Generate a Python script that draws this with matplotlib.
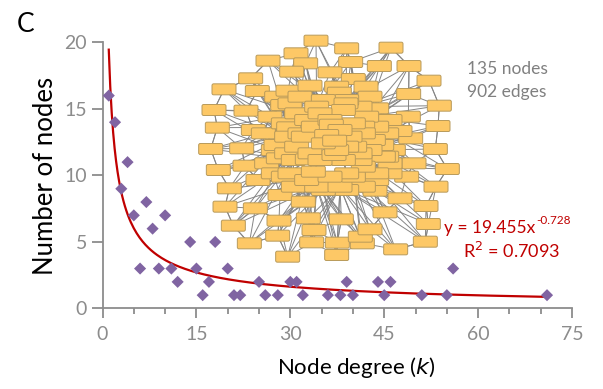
import numpy as np
import matplotlib
matplotlib.use("Agg")
import matplotlib.pyplot as plt
from matplotlib.patches import FancyBboxPatch
from matplotlib.collections import LineCollection

plt.rcParams['font.family'] = ['Lato', 'DejaVu Sans']

# --- degree distribution ---
degree = [1, 2, 3, 4, 5, 6, 7, 8, 9, 10, 11, 12, 14, 15, 16, 17, 18, 20, 21, 22,
          25, 26, 28, 30, 31, 32, 36, 38, 39, 40, 44, 45, 46, 51, 55, 56, 71]
count = [16, 14, 9, 11, 7, 3, 8, 6, 3, 7, 3, 2, 5, 3, 1, 2, 5, 3, 1, 1,
         2, 1, 1, 2, 2, 1, 1, 1, 2, 1, 2, 1, 2, 1, 1, 3, 1]

# power-law fit shown in the chart
fit_a = 19.455
fit_b = -0.728
fit_r2 = 0.7093

x_ticks = [0, 15, 30, 45, 60, 75]
y_ticks = [0, 5, 10, 15, 20]

# --- network inset: approximate box centres (inset pixel grid, y down) ---
node_x = [378, 470, 603, 318, 234, 347, 482, 568, 657, 717,
          182, 305, 420, 490, 102, 202, 294, 360, 448, 528, 656, 748,
          72, 168, 278, 468, 560, 655, 744,
          82, 190, 296, 424, 518, 630, 662, 736,
          62, 155, 258, 340, 434, 494, 575,
          85, 165, 265, 352, 432, 510, 590, 672, 772,
          118, 204, 300, 370, 470, 560, 650, 738,
          105, 196, 270, 340, 400, 470, 555, 630, 708,
          130, 267, 355, 454, 540, 585, 715,
          178, 263, 372, 511, 365, 442, 517, 617, 706,
          293, 440,
          260, 330, 400, 470, 540, 300, 440, 380, 510,
          240, 320, 390, 460, 530, 600, 280, 350, 420, 490, 560,
          220, 290, 370, 450, 520, 590, 330, 410, 480, 550,
          250, 320, 400, 470, 540, 610, 290, 360, 440, 510, 580,
          230, 310, 390, 460, 520, 600, 280, 350, 420, 490, 560,
          310, 380, 450, 520, 250, 600]
node_y = [62, 85, 83, 100, 122, 130, 126, 138, 138, 182,
          175, 155, 157, 177, 208, 213, 212, 197, 218, 200, 222, 257,
          270, 272, 255, 250, 265, 290, 318,
          323, 330, 322, 314, 320, 333, 355, 387,
          387, 385, 375, 350, 362, 380, 375,
          450, 437, 415, 418, 405, 420, 410, 430, 447,
          505, 480, 460, 455, 460, 460, 470, 500,
          560, 565, 525, 545, 510, 510, 512, 535, 558,
          617, 602, 595, 598, 628, 577, 612,
          670, 647, 630, 650, 667, 668, 670, 688, 665,
          710, 705,
          230, 230, 240, 240, 230, 250, 200, 260, 260,
          290, 280, 280, 270, 290, 300, 310, 300, 300, 310, 320,
          340, 350, 320, 330, 340, 340, 340, 345, 350, 360,
          390, 380, 370, 380, 390, 390, 400, 400, 390, 400, 410,
          430, 420, 420, 420, 440, 430, 470, 480, 470, 470, 480,
          500, 500, 500, 500, 460, 460]

fig = plt.figure(figsize=(6.03, 3.89), dpi=100)
ax = fig.add_axes([0.1700, 0.2070, 0.7787, 0.6840])

kx = np.linspace(1, 71, 300)
ax.plot(kx, fit_a * kx ** fit_b, color='#C00000', lw=1.6, zorder=3)
ax.scatter(degree, count, marker='D', s=38, color='#8064A2', edgecolors='none', zorder=4)

ax.set_xlim(0, 75)
ax.set_ylim(0, 20)
ax.set_xticks(x_ticks)
ax.set_xticks(np.arange(0, 76, 5), minor=True)
ax.set_yticks(y_ticks)
for s in ['top', 'right']:
    ax.spines[s].set_visible(False)
for s in ['left', 'bottom']:
    ax.spines[s].set_color('#8c8c8c')
    ax.spines[s].set_linewidth(1.3)
ax.tick_params(axis='both', which='both', colors='#8c8c8c', width=1.3, labelsize=14)
ax.tick_params(axis='y', length=8, pad=3)
ax.tick_params(axis='x', which='major', length=7.5, pad=5)
ax.tick_params(axis='x', which='minor', length=4.5)
ax.set_xlabel('Node degree ($\\it{k}$)', fontsize=16, labelpad=4)
ax.xaxis.set_label_coords(0.541, -0.175)
ax.set_ylabel('Number of nodes', fontsize=18.5, labelpad=5)

# --- network inset ---
ins = fig.add_axes([190 / 603, 1 - 270 / 389, 280 / 603, 250 / 389], zorder=1)
ins.set_xlim(0, 840)
ins.set_ylim(750, 0)
ins.axis('off')
ins.patch.set_alpha(0)

pts = np.column_stack([node_x, node_y]).astype(float)
centre = np.array([420.0, 370.0])
dist_c = np.hypot(*(pts - centre).T)
core = np.where(dist_c < 150)[0]
segs = []
for i, p in enumerate(pts):
    d = np.hypot(*(pts - p).T)
    for j in np.argsort(d)[1:4]:
        segs.append([p, pts[j]])
    dc = np.hypot(*(pts[core] - p).T)
    for j in core[np.argsort(dc)[1:4]]:
        segs.append([p, pts[j]])
ins.add_collection(LineCollection(segs, colors='#858585', linewidths=0.7, zorder=1))

bw, bh = 72, 33
order = np.argsort(-dist_c)
for i in order:
    x, y = pts[i]
    ins.add_patch(FancyBboxPatch((x - bw / 2, y - bh / 2), bw, bh,
                                 boxstyle='round,pad=0,rounding_size=5',
                                 facecolor='#FDC866', edgecolor='#B89A5A',
                                 linewidth=0.7, zorder=2))

# --- annotations (figure level so they sit above the inset) ---
W, H = 603, 389
eq = fig.text(444 / W, 1 - 228 / H, 'y = %.3fx' % fit_a, color='#C00000',
              fontsize=12.5, ha='left', va='center', zorder=5)
fig.canvas.draw()
bb = eq.get_window_extent()
fig.text(bb.x1 / W / fig.dpi * 100 + 1 / W, 1 - 220 / H, '%.3f' % fit_b, color='#C00000',
         fontsize=8.5, ha='left', va='center', zorder=5)
fig.text(463 / W, 1 - 251 / H, 'R$^{2}$ = %.4f' % fit_r2, color='#C00000',
         fontsize=13, ha='left', va='center', zorder=5)
fig.text(467 / W, 1 - 69 / H, '135 nodes', color='#808080', fontsize=12.5, va='center', zorder=5)
fig.text(467 / W, 1 - 92 / H, '902 edges', color='#808080', fontsize=12.5, va='center', zorder=5)
fig.text(17 / W, 1 - 24 / H, 'C', fontsize=19, va='center', zorder=5)

fig.savefig('out.png', dpi=100)
